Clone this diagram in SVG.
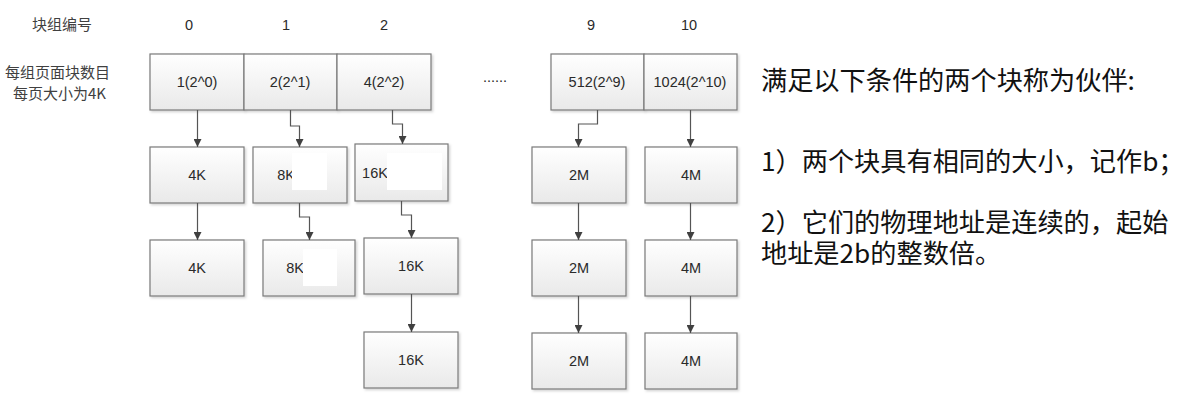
<svg xmlns="http://www.w3.org/2000/svg" width="1190" height="402" viewBox="0 0 1190 402">
<defs>
<linearGradient id="g" x1="0" y1="0" x2="0" y2="1">
<stop offset="0" stop-color="#ffffff"/>
<stop offset="1" stop-color="#e9e9e9"/>
</linearGradient>
<filter id="sh" x="-10%" y="-10%" width="130%" height="130%">
<feDropShadow dx="1.5" dy="1.5" stdDeviation="1" flood-color="#000" flood-opacity="0.18"/>
</filter>
<marker id="ah" viewBox="0 0 10 10" refX="10" refY="5" markerWidth="8" markerHeight="8" markerUnits="userSpaceOnUse" orient="auto">
<path d="M0,0 L10,5 L0,10 z" fill="#404040"/>
</marker>
</defs>
<style>
.box{fill:url(#g);stroke:#7a7a7a;stroke-width:1.2;filter:url(#sh)}
.t{font-family:"Liberation Sans","Noto Sans CJK SC",sans-serif;font-size:14.5px;fill:#2a2a2a;text-anchor:middle}
.c{font-family:"Noto Sans CJK SC",sans-serif;font-size:15px;fill:#404040}
.big{font-family:"Noto Sans CJK SC",sans-serif;font-size:26.2px;fill:#111}
.w{fill:#ffffff}
.ln{fill:none;stroke:#555;stroke-width:1.2;marker-end:url(#ah)}
</style>
<rect width="1190" height="402" fill="#ffffff"/>

<g id="header">
<text class="c" x="62" y="30" text-anchor="middle">块组编号</text>
<text class="t" x="189" y="30">0</text>
<text class="t" x="286" y="30">1</text>
<text class="t" x="384" y="30">2</text>
<text class="t" x="591" y="30">9</text>
<text class="t" x="689" y="30">10</text>
<text class="c" x="5" y="78">每组页面块数目</text>
<text class="c" x="13" y="99">每页大小为4K</text>
<text class="t" x="495" y="82">......</text>
</g>

<g id="top-0"><rect class="box" x="150" y="54" width="94" height="56"/><text class="t" x="197" y="87">1(2^0)</text></g>
<g id="top-1"><rect class="box" x="244" y="54" width="93" height="56"/><text class="t" x="290" y="87">2(2^1)</text></g>
<g id="top-2"><rect class="box" x="337" y="54" width="94" height="56"/><text class="t" x="384" y="87">4(2^2)</text></g>
<g id="top-9"><rect class="box" x="551" y="54" width="93" height="56"/><text class="t" x="597" y="87">512(2^9)</text></g>
<g id="top-10"><rect class="box" x="644" y="54" width="93" height="56"/><text class="t" x="690" y="87">1024(2^10)</text></g>

<g id="c0-r1"><rect class="box" x="150" y="147" width="94" height="56"/><text class="t" x="197" y="180">4K</text></g>
<g id="c0-r2"><rect class="box" x="150" y="240" width="94" height="56"/><text class="t" x="197" y="273">4K</text></g>

<g id="c1-r1"><rect class="box" x="253" y="147" width="94" height="56"/><text class="t" x="286" y="180">8K</text><rect class="w" x="292" y="153" width="35" height="37"/></g>
<g id="c1-r2"><rect class="box" x="263" y="240" width="92" height="56"/><text class="t" x="295" y="273">8K</text><rect class="w" x="303" y="249" width="34" height="37"/></g>

<g id="c2-r1"><rect class="box" x="355" y="144" width="93" height="57"/><text class="t" x="375" y="178">16K</text><rect class="w" x="387" y="153" width="55" height="37"/></g>
<g id="c2-r2"><rect class="box" x="364" y="238" width="94" height="56"/><text class="t" x="411" y="271">16K</text></g>
<g id="c2-r3"><rect class="box" x="364" y="332" width="94" height="56"/><text class="t" x="411" y="365">16K</text></g>

<g id="c9-r1"><rect class="box" x="532" y="147" width="94" height="56"/><text class="t" x="579" y="180">2M</text></g>
<g id="c9-r2"><rect class="box" x="532" y="240" width="94" height="56"/><text class="t" x="579" y="273">2M</text></g>
<g id="c9-r3"><rect class="box" x="532" y="333" width="94" height="56"/><text class="t" x="579" y="366">2M</text></g>

<g id="c10-r1"><rect class="box" x="645" y="147" width="92" height="56"/><text class="t" x="691" y="180">4M</text></g>
<g id="c10-r2"><rect class="box" x="645" y="240" width="92" height="56"/><text class="t" x="691" y="273">4M</text></g>
<g id="c10-r3"><rect class="box" x="645" y="333" width="92" height="56"/><text class="t" x="691" y="366">4M</text></g>

<g id="connectors">
<path class="ln" d="M197.5,110 V147"/>
<path class="ln" d="M197.5,203 V240"/>
<path class="ln" d="M290.5,110 V126 H299.5 V147"/>
<path class="ln" d="M299.5,203 V217 H309.5 V240"/>
<path class="ln" d="M392.5,110 V124 H402.5 V144"/>
<path class="ln" d="M401.5,201 V215 H411.5 V238"/>
<path class="ln" d="M411.5,294 V332"/>
<path class="ln" d="M597.5,110 V124 H578.5 V147"/>
<path class="ln" d="M578.5,203 V240"/>
<path class="ln" d="M578.5,296 V333"/>
<path class="ln" d="M690.5,110 V147"/>
<path class="ln" d="M690.5,203 V240"/>
<path class="ln" d="M690.5,296 V333"/>
</g>

<g id="notes">
<text class="big" x="761" y="90">满足以下条件的两个块称为伙伴:</text>
<text class="big" x="761" y="171">1）两个块具有相同的大小，记作b；</text>
<text class="big" x="761" y="232"><tspan x="761" y="232">2）它们的物理地址是连续的，起始</tspan><tspan x="761" y="263">地址是2b的整数倍。</tspan></text>
</g>
</svg>
